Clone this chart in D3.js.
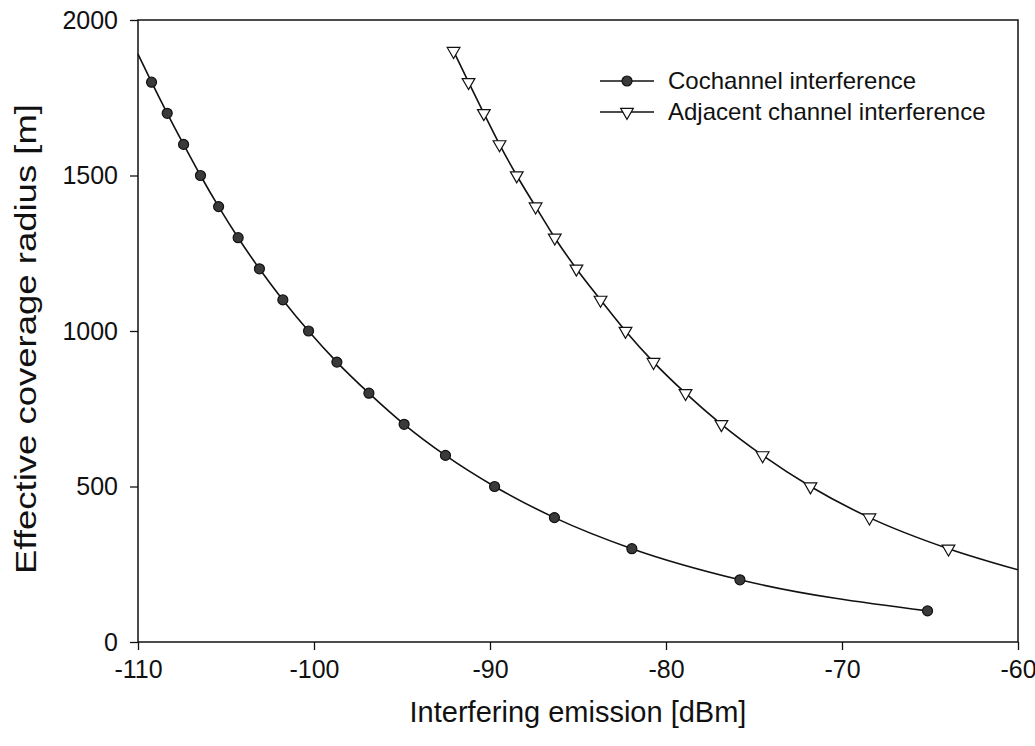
<!DOCTYPE html>
<html>
<head>
<meta charset="utf-8">
<script src="https://cdn.jsdelivr.net/npm/d3@7"></script>
<style>
  body { margin: 0; background: #fff; }
  text { font-family: "Liberation Sans", Arial, sans-serif; fill: #111; }
</style>
</head>
<body>
<div id="chart"></div>
<script>
var width = 1035;
var height = 746;
var margin = {top: 20, right: 17, bottom: 104, left: 138};

// radius steps (m) shared by both curves
var cochRadius = [1800, 1700, 1600, 1500, 1400, 1300, 1200, 1100, 1000, 900, 800, 700, 600, 500, 400, 300, 200, 100];
var cochEmission = [-109.23, -108.34, -107.41, -106.45, -105.42, -104.31, -103.10, -101.77, -100.31, -98.70, -96.88, -94.88, -92.53, -89.74, -86.34, -81.94, -75.80, -65.14];
// where the cochannel line enters at the left axis
var cochLineStart = [-110, 1890];

var adjRadius = [1900, 1800, 1700, 1600, 1500, 1400, 1300, 1200, 1100, 1000, 900, 800, 700, 600, 500, 400, 300];
var adjEmission = [-92.07, -91.22, -90.35, -89.46, -88.48, -87.41, -86.32, -85.09, -83.72, -82.30, -80.71, -78.89, -76.85, -74.51, -71.79, -68.44, -63.95];
// where the adjacent line leaves at the right axis
var adjLineEnd = [-60, 232];

var xTicks = [-110, -100, -90, -80, -70, -60];
var yTicks = [0, 500, 1000, 1500, 2000];
var seriesNames = ['Cochannel interference', 'Adjacent channel interference'];

var cochPts = cochEmission.map((e, i) => [e, cochRadius[i]]);
var adjPts = adjEmission.map((e, i) => [e, adjRadius[i]]);

var svg = d3.select('#chart')
    .append('svg')
    .attr('width', width)
    .attr('height', height);

var x = d3.scaleLinear()
    .domain([-110, -60])
    .range([margin.left, width - margin.right]);

var y = d3.scaleLinear()
    .domain([0, 2000])
    .range([height - margin.bottom, margin.top]);

var line = d3.line()
    .x((d) => x(d[0]))
    .y((d) => y(d[1]))
    .curve(d3.curveMonotoneX);

// plain hyphen like the original, not the unicode minus
var fmt = (d) => String(d);

// frame
svg.append('rect')
    .attr('x', x(-110))
    .attr('y', y(2000))
    .attr('width', x(-60) - x(-110))
    .attr('height', y(0) - y(2000))
    .attr('fill', 'none')
    .attr('stroke', '#111')
    .attr('stroke-width', 1.5);

var xAxis = svg.append('g')
    .attr('transform', `translate(0, ${y(0)})`)
    .call(d3.axisBottom(x).tickValues(xTicks).tickSize(8).tickPadding(10).tickFormat(fmt));
xAxis.select('.domain').remove();
xAxis.selectAll('line').attr('stroke', '#111').attr('stroke-width', 1.3);
xAxis.selectAll('text')
    .style('font-family', '"Liberation Sans", Arial, sans-serif')
    .style('font-size', '25px')
    .attr('fill', '#111');

var yAxis = svg.append('g')
    .attr('transform', `translate(${x(-110)}, 0)`)
    .call(d3.axisLeft(y).tickValues(yTicks).tickSize(8).tickPadding(12).tickFormat(fmt));
yAxis.select('.domain').remove();
yAxis.selectAll('line').attr('stroke', '#111').attr('stroke-width', 1.3);
yAxis.selectAll('text')
    .style('font-family', '"Liberation Sans", Arial, sans-serif')
    .style('font-size', '25px')
    .attr('fill', '#111');

// axis titles
svg.append('text')
    .attr('x', (x(-110) + x(-60)) / 2)
    .attr('y', 722)
    .attr('text-anchor', 'middle')
    .style('font-size', '29px')
    .text('Interfering emission [dBm]');

svg.append('text')
    .attr('transform', `translate(36, 339) rotate(-90)`)
    .attr('text-anchor', 'middle')
    .attr('textLength', 470)
    .attr('lengthAdjust', 'spacingAndGlyphs')
    .style('font-size', '29px')
    .text('Effective coverage radius [m]');

// curves
svg.append('path')
    .datum([cochLineStart].concat(cochPts))
    .attr('d', line)
    .attr('fill', 'none')
    .attr('stroke', '#111')
    .attr('stroke-width', 1.6);

svg.append('path')
    .datum(adjPts.concat([adjLineEnd]))
    .attr('d', line)
    .attr('fill', 'none')
    .attr('stroke', '#111')
    .attr('stroke-width', 1.6);

var tri = d3.symbol().type(d3.symbolTriangle).size(70);

function circleMark(sel) {
    sel.append('circle')
        .attr('r', 5)
        .attr('fill', '#3a3a3a')
        .attr('stroke', '#111')
        .attr('stroke-width', 1.2);
}
function triMark(sel) {
    sel.append('path')
        .attr('d', tri)
        .attr('transform', 'rotate(180)')
        .attr('fill', '#fff')
        .attr('stroke', '#111')
        .attr('stroke-width', 1.2);
}

svg.append('g').selectAll('g')
    .data(cochPts)
    .enter()
    .append('g')
    .attr('transform', (d) => `translate(${x(d[0])}, ${y(d[1])})`)
    .call(circleMark);

svg.append('g').selectAll('g')
    .data(adjPts)
    .enter()
    .append('g')
    .attr('transform', (d) => `translate(${x(d[0])}, ${y(d[1])})`)
    .call(triMark);

// legend
var legend = svg.append('g')
    .selectAll('g')
    .data(seriesNames)
    .enter()
    .append('g')
    .attr('transform', (d, i) => `translate(600, ${81 + i * 31})`);

legend.append('line')
    .attr('x1', 0).attr('x2', 54)
    .attr('stroke', '#111')
    .attr('stroke-width', 1.4);

legend.filter((d, i) => i == 0).append('g')
    .attr('transform', 'translate(27, 0)')
    .call(circleMark);
legend.filter((d, i) => i == 1).append('g')
    .attr('transform', 'translate(27, 0)')
    .call(triMark);

legend.append('text')
    .attr('x', 68)
    .attr('dy', '0.35em')
    .style('font-size', '24px')
    .text((d) => d);
</script>
</body>
</html>
